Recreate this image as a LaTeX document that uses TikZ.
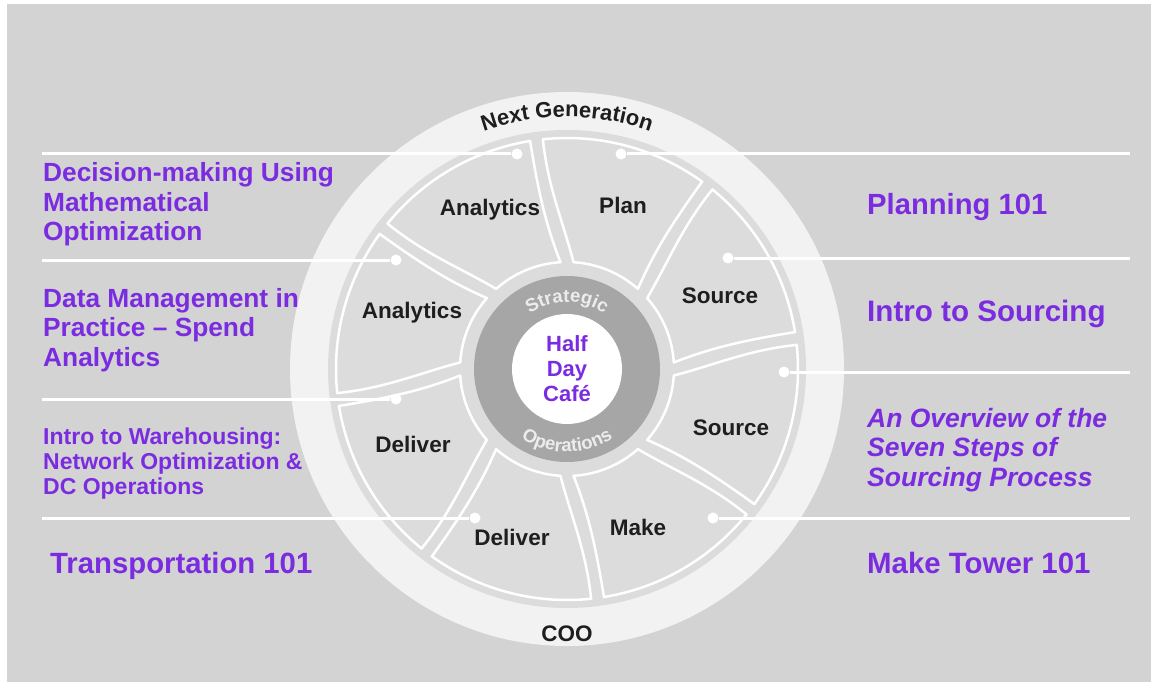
\documentclass[tikz,border=0pt]{standalone}
\usepackage{fontspec}
\setmainfont{Liberation Sans}
\usetikzlibrary{decorations.text}

\definecolor{pageGrey}{HTML}{D3D3D3}
\definecolor{bandGrey}{HTML}{F2F2F2}
\definecolor{wheelGrey}{HTML}{DCDCDC}
\definecolor{ringGrey}{HTML}{A6A6A6}
\definecolor{ringText}{HTML}{ECECEC}
\definecolor{courseViolet}{RGB}{123,44,224}
\definecolor{labelInk}{HTML}{1E1E1E}

\tikzset{
  course/.style={text=courseViolet, anchor=west, align=left, inner sep=0pt},
  seglabel/.style={text=labelInk, font=\bfseries\fontsize{22.5}{24}\selectfont, inner sep=0pt},
  segline/.style={draw=white, line width=2.5pt, fill=wheelGrey, line join=round},
  leader/.style={draw=white, line width=3pt},
  dot/.style={circle, fill=white, inner sep=0pt, minimum size=11pt},
}

\begin{document}
\begin{tikzpicture}[x=1pt,y=1pt]
  % page and grey panel
  \useasboundingbox (0,0) rectangle (1151,-682);
  \fill[white] (0,0) rectangle (1151,-682);
  \fill[pageGrey] (7,-4) rectangle (1151,-682);

  \begin{scope}[shift={(567,-369)}]
    % outer band and wheel body
    \fill[bandGrey] (0,0) circle[radius=277];
    \fill[wheelGrey] (0,0) circle[radius=239];
    % eight swirling segments
    \foreach \a in {0,45,...,315}{
      \draw[segline] (\a+3.5:107) .. controls (\a+8.5:147) and (\a+9.2:182) .. (\a+9.2:231)
        arc[start angle=\a+9.2, end angle=\a+51, radius=231]
        .. controls (\a+51:182) and (\a+46.5:147) .. (\a+41.5:107)
        arc[start angle=\a+41.5, end angle=\a+3.5, radius=107] -- cycle;
    }
    % hub
    \fill[ringGrey] (0,0) circle[radius=93];
    \fill[white] (0,0) circle[radius=55];
    % curved captions
    \path[decorate, decoration={text along path, text align=center, text color=labelInk,
      text={|\bfseries\fontsize{22}{22}\selectfont|Next Generation}}]
      (125:252) arc[start angle=125, end angle=55, radius=252];
    \path[decorate, decoration={text along path, text align=center, text color=ringText,
      text={|\bfseries\fontsize{18.5}{18.5}\selectfont|Strategic}}]
      (150:67) arc[start angle=150, end angle=30, radius=67];
    \path[decorate, decoration={text along path, text align=center, text color=ringText,
      text={|\bfseries\fontsize{18.5}{18.5}\selectfont|Operations}}]
      (212:83) arc[start angle=212, end angle=328, radius=83];
  \end{scope}

  % hub title
  \node[text=courseViolet, font=\bfseries\fontsize{22}{25}\selectfont, align=center, inner sep=0pt]
    (hub) at (567,-369) {Half\\Day\\Café};

  % segment labels
  \node[seglabel] (sAnaTop) at (490,-210) {Analytics};
  \node[seglabel] (sPlan)   at (623,-205) {Plan};
  \node[seglabel] (sSrcUp)  at (720,-296) {Source};
  \node[seglabel] (sAnaLft) at (412,-313) {Analytics};
  \node[seglabel] (sSrcLo)  at (731,-428) {Source};
  \node[seglabel] (sDelLft) at (413,-444) {Deliver};
  \node[seglabel] (sMake)   at (638,-527) {Make};
  \node[seglabel] (sDelBot) at (512,-537) {Deliver};
  \node[seglabel] (sCoo)    at (567,-634) {COO};

  % leader dots
  \node[dot] (dL1) at (517,-154) {};
  \node[dot] (dL2) at (396,-260) {};
  \node[dot] (dL3) at (396,-399) {};
  \node[dot] (dL4) at (475,-518) {};
  \node[dot] (dR1) at (621,-154) {};
  \node[dot] (dR2) at (728,-258) {};
  \node[dot] (dR3) at (784,-372) {};
  \node[dot] (dR4) at (713,-518) {};

  % free ends of leaders
  \coordinate (eL1) at (42,-154);
  \coordinate (eL2) at (42,-260);
  \coordinate (eL3) at (42,-399);
  \coordinate (eL4) at (42,-518);
  \coordinate (eR1) at (1130,-154);
  \coordinate (eR2) at (1130,-258);
  \coordinate (eR3) at (1130,-372);
  \coordinate (eR4) at (1130,-518);

  \draw[leader] (eL1) -- (dL1);
  \draw[leader] (eL2) -- (dL2);
  \draw[leader] (eL3) -- (dL3);
  \draw[leader] (eL4) -- (dL4);
  \draw[leader] (dR1) -- (eR1);
  \draw[leader] (dR2) -- (eR2);
  \draw[leader] (dR3) -- (eR3);
  \draw[leader] (dR4) -- (eR4);

  % course titles, left
  \node[course, font=\bfseries\fontsize{26.3}{29.5}\selectfont] (tDecision) at (43,-204.5)
    {Decision-making Using\\Mathematical\\Optimization};
  \node[course, font=\bfseries\fontsize{26.3}{29.2}\selectfont] (tData) at (43,-330)
    {Data Management in\\Practice – Spend\\Analytics};
  \node[course, font=\bfseries\fontsize{23}{25}\selectfont] (tWare) at (43,-464)
    {Intro to Warehousing:\\Network Optimization \&\\DC Operations};
  \node[course, font=\bfseries\fontsize{29.3}{32}\selectfont] (tTrans) at (50,-566)
    {Transportation 101};

  % course titles, right
  \node[course, font=\bfseries\fontsize{29.2}{32}\selectfont] (tPlan) at (867,-207)
    {Planning 101};
  \node[course, font=\bfseries\fontsize{29.6}{32}\selectfont] (tSource) at (867,-314)
    {Intro to Sourcing};
  \node[course, font=\bfseries\itshape\fontsize{26.5}{29.5}\selectfont] (tSeven) at (867,-450)
    {An Overview of the\\Seven Steps of\\Sourcing Process};
  \node[course, font=\bfseries\fontsize{29.4}{32}\selectfont] (tMake) at (867,-563)
    {Make Tower 101};
\end{tikzpicture}
\end{document}
